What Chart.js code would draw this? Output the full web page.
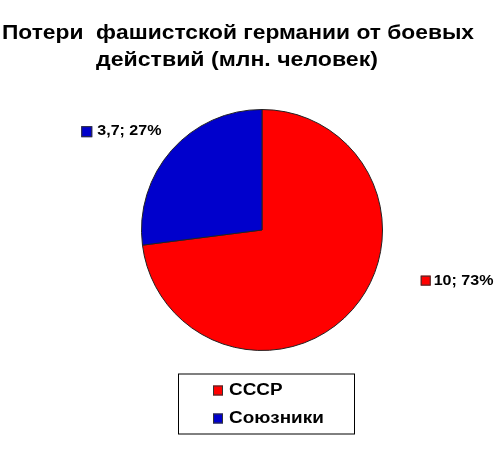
<!DOCTYPE html>
<html>
<head>
<meta charset="utf-8">
<script src="https://cdn.jsdelivr.net/npm/chart.js@4"></script>
<style>
  html, body { margin: 0; padding: 0; background: #fff; }
  #wrap { width: 500px; height: 451px; position: relative; }
</style>
</head>
<body>
<div id="wrap"><canvas id="lossChart"></canvas></div>
<script>
// chart data
const titleLines = ['Потери  фашистской германии от боевых', 'действий (млн. человек)'];
const categories = ['СССР', 'Союзники'];
const losses = [10, 3.7];
const sliceColors = ['#ff0000', '#0000cc'];

const FONT = '"Liberation Sans", Arial, sans-serif';

// format like the original: decimal comma, whole percent
function fmtLabel(v, total) {
    const val = String(v).replace('.', ',');
    return val + '; ' + Math.round(v / total * 100) + '%';
}

function square(ctx, x, y, size, color) {
    ctx.fillStyle = color;
    ctx.fillRect(x, y, size, size);
    ctx.strokeStyle = '#333';
    ctx.lineWidth = 1;
    ctx.strokeRect(x + 0.5, y + 0.5, size - 1, size - 1);
}

// the source image is a bit stretched sideways, so text gets a x-scale
function text(ctx, str, x, y, sx) {
    ctx.save();
    ctx.translate(x, y);
    ctx.scale(sx, 1);
    ctx.fillText(str, 0, 0);
    ctx.restore();
}

const decor = {
    id: 'decor',
    afterDraw(chart) {
        const ctx = chart.ctx;
        ctx.save();

        // title
        ctx.fillStyle = '#000';
        ctx.font = 'bold 21px ' + FONT;
        ctx.textAlign = 'center';
        ctx.textBaseline = 'alphabetic';
        text(ctx, titleLines[0], 238, 39, 1.085);
        text(ctx, titleLines[1], 237, 66, 1.1);

        // slice labels, placed off the arc geometry
        const arcs = chart.getDatasetMeta(0).data;
        const total = losses.reduce((a, b) => a + b, 0);
        ctx.font = 'bold 15px ' + FONT;
        ctx.textBaseline = 'middle';
        ctx.textAlign = 'left';

        const red = arcs[0], blue = arcs[1];
        const r = red.outerRadius;
        // СССР label to the right
        let lx = red.x + r * 1.317, ly = red.y + r * 0.42;
        square(ctx, lx, ly - 5, 10, sliceColors[0]);
        ctx.fillStyle = '#000';
        text(ctx, fmtLabel(losses[0], total), lx + 13, ly, 1.07);
        // Союзники label upper left
        lx = blue.x - r * 1.5; ly = blue.y - r * 0.82;
        square(ctx, lx, ly - 5, 11, sliceColors[1]);
        ctx.fillStyle = '#000';
        text(ctx, fmtLabel(losses[1], total), lx + 16, ly, 1.07);

        // boxed legend under the pie
        const bx = 178, by = red.y + r + 23, bw = 176, bh = 60;
        ctx.strokeStyle = '#000';
        ctx.lineWidth = 1;
        ctx.strokeRect(bx + 0.5, by + 0.5, bw, bh);
        ctx.font = 'bold 16px ' + FONT;
        categories.forEach((c, i) => {
            const y = by + 17 + i * 28;
            square(ctx, bx + 35, y - 5, 10, sliceColors[i]);
            ctx.fillStyle = '#000';
            text(ctx, c, bx + 51, y, 1.18);
        });

        ctx.restore();
    }
};

new Chart(document.getElementById('lossChart'), {
    type: 'pie',
    data: {
        labels: categories,
        datasets: [{
            data: losses,
            backgroundColor: sliceColors,
            borderColor: '#222',
            borderWidth: 1
        }]
    },
    options: {
        responsive: true,
        maintainAspectRatio: false,
        animation: false,
        layout: { padding: { top: 109, bottom: 100, left: 141, right: 117 } },
        plugins: {
            legend: { display: false },
            title: { display: false },
            tooltip: { enabled: false }
        }
    },
    plugins: [decor]
});
</script>
</body>
</html>
